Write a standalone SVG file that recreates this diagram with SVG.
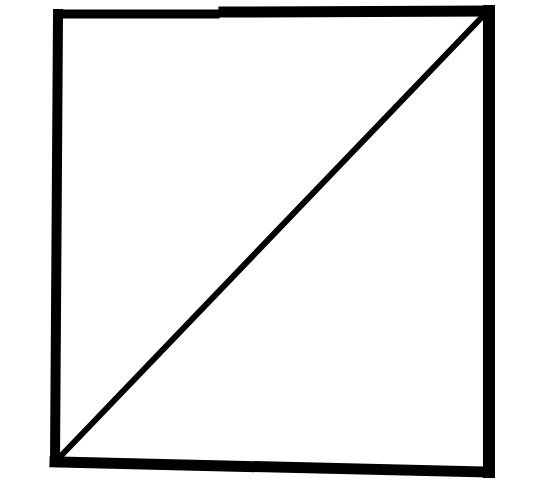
<svg xmlns="http://www.w3.org/2000/svg" width="541" height="485" viewBox="0 0 541 485">
<style>.e{stroke:#000;stroke-linecap:square;fill:none}</style>
<rect width="541" height="485" fill="#fff"/>
<g id="square">
<line class="e" x1="58" y1="14" x2="215" y2="14" stroke-width="9"/>
<line class="e" x1="224" y1="12" x2="488" y2="11" stroke-width="11"/>
<line class="e" x1="489" y1="11" x2="489" y2="472" stroke-width="12"/>
<line class="e" x1="489" y1="472" x2="55" y2="462" stroke-width="11"/>
<line class="e" x1="55" y1="462" x2="58" y2="14" stroke-width="10"/>
</g>
<g id="connectors">
<line x1="57" y1="460" x2="483" y2="16" stroke="#000" stroke-width="6"/>
</g>
</svg>
